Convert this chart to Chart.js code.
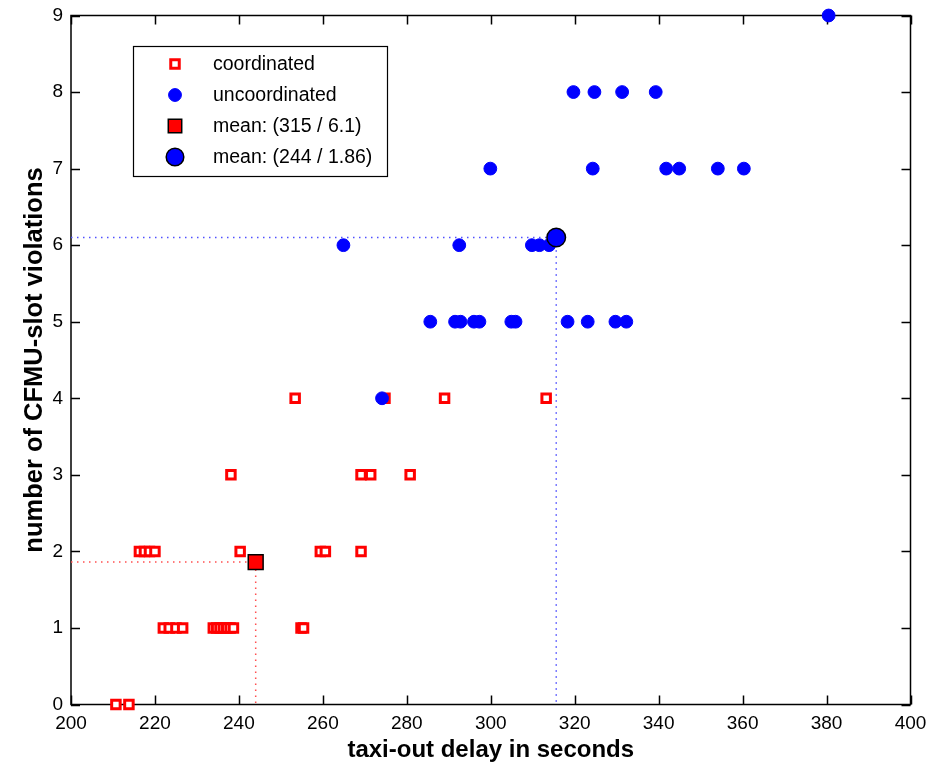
<!DOCTYPE html>
<html>
<head>
<meta charset="utf-8">
<script src="https://cdn.jsdelivr.net/npm/chart.js@4.4.1/dist/chart.umd.min.js"></script>
<style>
  html, body { margin: 0; padding: 0; background: #fff; }
  #wrap { width: 930px; height: 768px; }
</style>
</head>
<body>
<div id="wrap"><canvas id="chart" width="930" height="768"></canvas></div>
<script>
// coordinated flights (taxi-out delay in s / slot violations)
var coord_x = [210.7, 213.8,
    222.0, 223.4, 225.0, 226.6, 233.9, 234.7, 235.5, 236.3, 237.1, 237.9, 238.7, 254.8, 255.4,
    216.3, 217.5, 218.7, 220.0, 240.3, 259.4, 260.6, 269.1,
    238.1, 269.1, 271.4, 280.8,
    253.4, 274.8, 289.0, 313.2];
var coord_y = [0, 0,
    1, 1, 1, 1, 1, 1, 1, 1, 1, 1, 1, 1, 1,
    2, 2, 2, 2, 2, 2, 2, 2,
    3, 3, 3, 3,
    4, 4, 4, 4];

// uncoordinated flights
var uncoord_x = [380.5,
    319.7, 324.7, 331.3, 339.3,
    299.9, 324.3, 341.8, 344.9, 354.1, 360.3,
    264.9, 292.5, 309.8, 311.6, 313.9,
    285.6, 291.5, 292.8, 296.0, 297.3, 304.9, 305.9, 318.3, 323.1, 329.7, 332.3,
    274.1];
var uncoord_y = [9,
    8, 8, 8, 8,
    7, 7, 7, 7, 7, 7,
    6, 6, 6, 6, 6,
    5, 5, 5, 5, 5, 5, 5, 5, 5, 5, 5,
    4];

// means [x, y]
var mean_coord = [244, 1.86];
var mean_uncoord = [315.6, 6.1];

var legend_labels = ["coordinated", "uncoordinated", "mean: (315 / 6.1)", "mean: (244 / 1.86)"];
var x_ticks = [200, 220, 240, 260, 280, 300, 320, 340, 360, 380, 400];
var y_ticks = [0, 1, 2, 3, 4, 5, 6, 7, 8, 9];

var FONT = "'Liberation Sans', Arial, sans-serif";

function toPoints(xs, ys) {
    var pts = [];
    for (let i = 0; i < xs.length; i++) {
        pts.push({ x: xs[i], y: ys[i] });
    }
    return pts;
}

function guide(m) {
    return [{ x: x_ticks[0], y: m[1] }, { x: m[0], y: m[1] }, { x: m[0], y: y_ticks[0] }];
}

const styles = [
    { pointStyle: "rect", radius: 6, bg: "#fff", border: "#ff0000", bw: 3 },
    { pointStyle: "circle", radius: 6.4, bg: "#0000ff", border: "#0000ff", bw: 1 },
    { pointStyle: "rect", radius: 10.5, bg: "#ff0000", border: "#000", bw: 1.5 },
    { pointStyle: "circle", radius: 9.3, bg: "#0000ff", border: "#000", bw: 1.5 },
];

// box with inward ticks (matlab style)
const framePlugin = {
    id: "frame",
    beforeDatasetsDraw(chart) {
        const ctx = chart.ctx;
        const a = chart.chartArea;
        const xs = chart.scales.x, ys = chart.scales.y;
        ctx.save();
        ctx.strokeStyle = "#000";
        ctx.lineWidth = 1.5;
        ctx.beginPath();
        x_ticks.forEach(function(v) {
            const px = Math.round(xs.getPixelForValue(v)) + 0.5;
            ctx.moveTo(px, a.bottom); ctx.lineTo(px, a.bottom - 9);
            ctx.moveTo(px, a.top); ctx.lineTo(px, a.top + 9);
        });
        y_ticks.forEach(function(v) {
            const py = Math.round(ys.getPixelForValue(v)) + 0.5;
            ctx.moveTo(a.left, py); ctx.lineTo(a.left + 9, py);
            ctx.moveTo(a.right, py); ctx.lineTo(a.right - 9, py);
        });
        ctx.stroke();
        ctx.strokeRect(a.left, a.top, a.right - a.left, a.bottom - a.top);
        ctx.restore();
    },
    afterDraw(chart) {
        const ctx = chart.ctx;
        ctx.save();
        ctx.fillStyle = "#fff";
        ctx.fillRect(133, 46, 254, 130);
        ctx.strokeStyle = "#000";
        ctx.lineWidth = 1.2;
        ctx.strokeRect(133.5, 46.5, 254, 130);
        const rows = [64, 95, 126, 157];
        ctx.font = "19.5px " + FONT;
        ctx.textBaseline = "middle";
        for (let i = 0; i < 4; i++) {
            const s = styles[i];
            ctx.fillStyle = s.bg;
            ctx.strokeStyle = s.border;
            ctx.lineWidth = s.bw;
            let r = s.radius;
            if (i === 2) r = 9.5;
            if (i === 3) r = 8.8;
            Chart.helpers.drawPoint(ctx, { pointStyle: s.pointStyle, radius: r, rotation: 0, borderWidth: s.bw }, 175, rows[i]);
            ctx.fillStyle = "#000";
            ctx.fillText(legend_labels[i], 213, rows[i] + 1);
        }
        ctx.restore();
    },
};

function scatterSet(label, pts, s, order) {
    return {
        type: "scatter",
        label: label,
        data: pts,
        pointStyle: s.pointStyle,
        pointRadius: s.radius,
        pointHoverRadius: s.radius,
        pointBackgroundColor: s.bg,
        pointBorderColor: s.border,
        pointBorderWidth: s.bw,
        showLine: false,
        clip: false,
        order: order,
    };
}

function guideSet(pts, color, order) {
    return {
        type: "line",
        data: pts,
        borderColor: color,
        borderWidth: 1.5,
        borderDash: [1.5, 4.5],
        pointRadius: 0,
        fill: false,
        tension: 0,
        clip: false,
        order: order,
    };
}

const ctx = document.getElementById("chart").getContext("2d");
const myChart = new Chart(ctx, {
    type: "scatter",
    data: {
        datasets: [
            scatterSet(legend_labels[0], toPoints(coord_x, coord_y), styles[0], 6),
            scatterSet(legend_labels[1], toPoints(uncoord_x, uncoord_y), styles[1], 5),
            guideSet(guide(mean_coord), "#ff5050", 4),
            guideSet(guide(mean_uncoord), "#5050ff", 3),
            scatterSet(legend_labels[2], [{ x: mean_coord[0], y: mean_coord[1] }], styles[2], 2),
            scatterSet(legend_labels[3], [{ x: mean_uncoord[0], y: mean_uncoord[1] }], styles[3], 1),
        ],
    },
    options: {
        responsive: false,
        animation: false,
        devicePixelRatio: 1,
        layout: { padding: { left: 0, top: 15.5, right: 19.5, bottom: 0 } },
        plugins: { legend: { display: false }, tooltip: { enabled: false } },
        scales: {
            x: {
                type: "linear",
                min: 200,
                max: 400,
                grid: { display: false, drawTicks: false },
                border: { display: false },
                ticks: {
                    stepSize: 20,
                    padding: 8,
                    color: "#000",
                    maxRotation: 0,
                    font: { family: FONT, size: 19 },
                },
                title: {
                    display: true,
                    text: "taxi-out delay in seconds",
                    color: "#000",
                    padding: { top: 0, bottom: 3 },
                    font: { family: FONT, size: 24, weight: "bold" },
                },
                afterFit: function(scale) {
                    scale.height = 63.5;
                    scale.paddingLeft = 0;
                    scale.paddingRight = 0;
                },
            },
            y: {
                type: "linear",
                min: 0,
                max: 9,
                grid: { display: false, drawTicks: false },
                border: { display: false },
                ticks: {
                    stepSize: 1,
                    padding: 8,
                    color: "#000",
                    font: { family: FONT, size: 19 },
                },
                title: {
                    display: true,
                    text: "number of CFMU-slot violations",
                    color: "#000",
                    padding: { top: 20, bottom: 0 },
                    font: { family: FONT, size: 25.5, weight: "bold" },
                },
                afterFit: function(scale) {
                    scale.width = 71;
                    scale.paddingTop = 0;
                    scale.paddingBottom = 0;
                },
            },
        },
    },
    plugins: [framePlugin],
});
</script>
</body>
</html>
